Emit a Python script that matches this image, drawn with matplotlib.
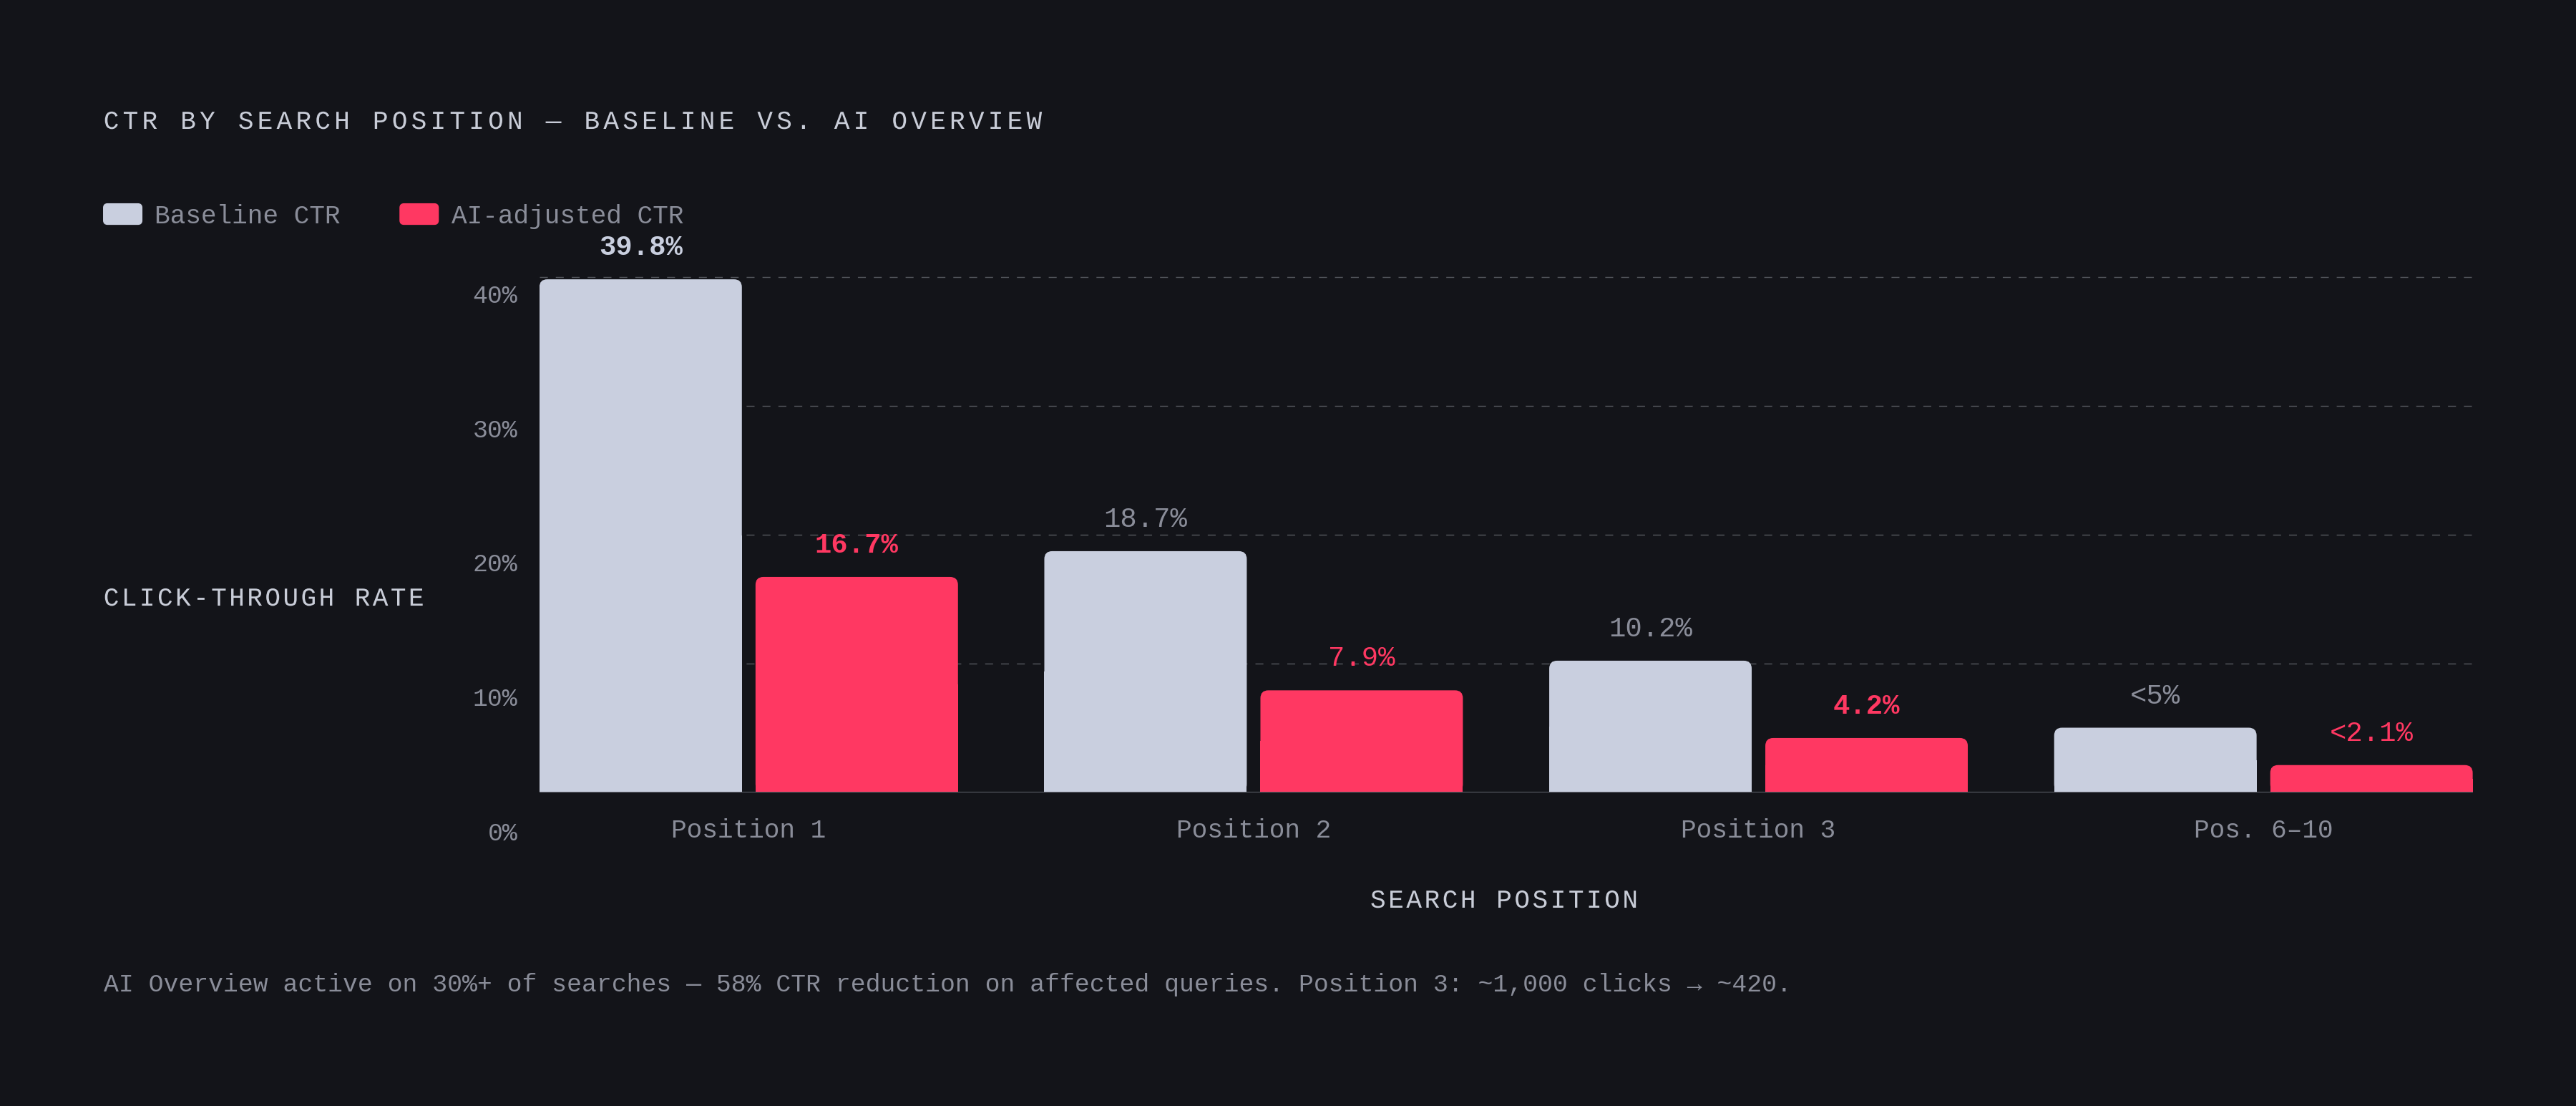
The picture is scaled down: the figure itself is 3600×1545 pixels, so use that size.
import numpy as np
import matplotlib.pyplot as plt
from matplotlib.patches import FancyBboxPatch, Patch
from matplotlib.legend_handler import HandlerPatch
from matplotlib.patheffects import AbstractPathEffect
from matplotlib.path import Path

# --- data -------------------------------------------------------------------
categories = ["Position 1", "Position 2", "Position 3", "Pos. 6–10"]
baseline_ctr = [39.8, 18.7, 10.2, 5.0]
ai_ctr = [16.7, 7.9, 4.2, 2.1]
baseline_labels = ["39.8%", "18.7%", "10.2%", "<5%"]
ai_labels = ["16.7%", "7.9%", "4.2%", "<2.1%"]
baseline_bold = [True, False, False, False]
ai_bold = [True, False, True, False]
y_ticks = [0, 10, 20, 30, 40]

# --- colours ----------------------------------------------------------------
BG = "#131419"
LIGHT = "#c9cfdf"
RED = "#ff3862"
MUTED = "#8a8d99"
TITLE = "#c9cdd8"
GRID = "#56595f"
AXIS = "#6b6e78"

plt.rcParams["font.family"] = ["Liberation Mono", "DejaVu Sans Mono"]


class Tracking(AbstractPathEffect):
    """Letter-spacing for monospaced text (text path units are 1/100 em)."""

    def __init__(self, extra_px, advance=60.0):
        super().__init__()
        self.extra_px = extra_px
        self.advance = advance

    def draw_path(self, renderer, gc, tpath, affine, rgbFace=None):
        verts = tpath.vertices.copy()
        codes = tpath.codes
        starts = np.flatnonzero(codes == Path.MOVETO)
        ends = np.append(starts[1:], len(codes))
        extra = self.extra_px / affine.get_matrix()[0, 0]
        for a, b in zip(starts, ends):
            keep = codes[a:b] != Path.CLOSEPOLY
            xs = verts[a:b, 0][keep]
            idx = np.floor((xs.min() + xs.max()) / 2 / self.advance)
            verts[a:b, 0] += idx * extra
        renderer.draw_path(gc, Path(verts, codes), affine, rgbFace)


def round_tops(ax, bars, radius_px):
    # swap square bars for ones with rounded top corners
    fig = ax.figure
    pos = ax.get_position()
    w_px = pos.width * fig.get_figwidth() * fig.dpi
    h_px = pos.height * fig.get_figheight() * fig.dpi
    x0, x1 = ax.get_xlim()
    y0, y1 = ax.get_ylim()
    rx = radius_px * (x1 - x0) / w_px
    ry = radius_px * (y1 - y0) / h_px
    for bar in bars:
        h = bar.get_height()
        ax.add_patch(FancyBboxPatch((bar.get_x(), 0), bar.get_width(), h,
                                    boxstyle=f"round,pad=0,rounding_size={rx}",
                                    mutation_aspect=ry / rx,
                                    fc=bar.get_facecolor(), ec="none",
                                    zorder=bar.get_zorder()))
        bar.set_height(h / 2)


def rounded_handle(legend, orig_handle, xdescent, ydescent, width, height, fontsize):
    return FancyBboxPatch((-xdescent, -ydescent), width, height,
                          boxstyle="round,pad=0,rounding_size=4")


fig = plt.figure(figsize=(36, 15.45), dpi=100, facecolor=BG)
ax = fig.add_axes([0.2094, 0.2838, 0.7505, 0.4893])
ax.set_facecolor(BG)

x = np.arange(len(categories))
bar_w = 0.401
offset = 0.214
ax.set_xlim(-0.4145, len(categories) - 1 + 0.4145)
ax.set_ylim(0, 42)

b1 = ax.bar(x - offset, baseline_ctr, bar_w, color=LIGHT, zorder=2)
b2 = ax.bar(x + offset, ai_ctr, bar_w, color=RED, zorder=2)
round_tops(ax, b1, 11)
round_tops(ax, b2, 11)

# value labels
for i in range(len(categories)):
    ax.annotate(baseline_labels[i], (x[i] - offset, baseline_ctr[i]),
                xytext=(0, 24.5), textcoords="offset points",
                ha="center", va="baseline", fontsize=28,
                fontweight="bold" if baseline_bold[i] else "normal",
                color=LIGHT if baseline_bold[i] else MUTED)
    ax.annotate(ai_labels[i], (x[i] + offset, ai_ctr[i]),
                xytext=(0, 24.5), textcoords="offset points",
                ha="center", va="baseline", fontsize=28,
                fontweight="bold" if ai_bold[i] else "normal", color=RED)

# grid + baseline
ax.set_yticks(y_ticks[1:])
ax.yaxis.grid(True, color=GRID, lw=1.0, linestyle=(0, (8, 8)))
ax.set_axisbelow(True)
ax.axhline(0, color=AXIS, lw=1.3, zorder=3)
ax.tick_params(axis="y", length=0, labelleft=False)
ax.set_xticks(x, categories)
ax.tick_params(axis="x", length=0, pad=26, labelsize=26, labelcolor=MUTED)
for s in ax.spines.values():
    s.set_visible(False)

# y tick labels sit on their own (slightly taller) scale, as in the original
ax_t = fig.add_axes([0.2094, 0.2485, 0.001, 0.4862])
ax_t.set_ylim(0, 40)
ax_t.set_yticks(y_ticks, [f"{v}%" for v in y_ticks])
ax_t.set_xticks([])
ax_t.tick_params(length=0, pad=22, labelsize=25, labelcolor=MUTED)
ax_t.patch.set_alpha(0)
for s in ax_t.spines.values():
    s.set_visible(False)

# titles and labels
fig.text(0.0402, 0.8835, "CTR BY SEARCH POSITION — BASELINE VS. AI OVERVIEW",
         fontsize=26, color=TITLE, va="baseline", path_effects=[Tracking(5.2)])
fig.text(0.0402, 0.4524, "CLICK-THROUGH RATE", fontsize=26, color=TITLE,
         va="baseline", path_effects=[Tracking(3.4)])
fig.text(1915 / 3600, 0.1793, "SEARCH POSITION", fontsize=26, color=TITLE,
         va="baseline", path_effects=[Tracking(3.5)])
fig.text(0.0402, 0.1036,
         "AI Overview active on 30%+ of searches — 58% CTR reduction on affected "
         "queries. Position 3: ~1,000 clicks → ~420.",
         fontsize=25, color=MUTED, va="baseline")

handles = [Patch(color=LIGHT), Patch(color=RED)]
fig.legend(handles, ["Baseline CTR", "AI-adjusted CTR"], loc="center left",
           bbox_to_anchor=(0.0402, 0.8045), ncol=2, frameon=False, fontsize=26,
           handlelength=1.485, handleheight=0.85, handletextpad=0.5,
           columnspacing=2.3, borderpad=0, borderaxespad=0, labelcolor=MUTED,
           handler_map={Patch: HandlerPatch(patch_func=rounded_handle)})

fig.savefig("out.png", dpi=100, facecolor=BG)
